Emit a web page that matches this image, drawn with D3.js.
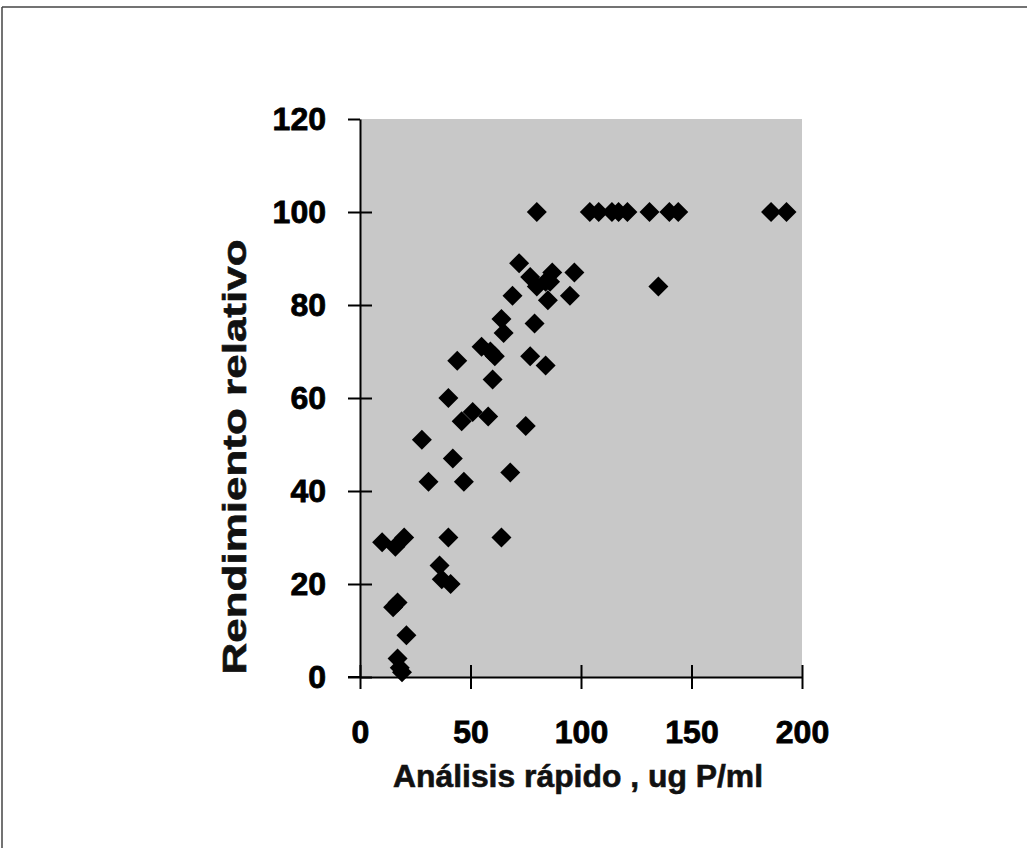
<!DOCTYPE html>
<html>
<head>
<meta charset="utf-8">
<title>Rendimiento relativo vs Análisis rápido</title>
<style>
  body { margin: 0; background: #fff; }
  svg { display: block; }
  .axis path, .axis line { stroke: #000; stroke-width: 2; }
  .axis text { font-family: "Liberation Sans", Arial, sans-serif; font-weight: bold; font-size: 32px; fill: #000; stroke: #000; stroke-width: 0.8; }
  .title { font-family: "Liberation Sans", Arial, sans-serif; font-weight: bold; fill: #111; stroke: #111; stroke-width: 0.6; }
</style>
</head>
<body>
<script src="https://d3js.org/d3.v7.min.js"></script>
<script>
// análisis rápido (ug P/ml) and rendimiento relativo
var xVals = [10, 16, 20, 15, 17, 21, 17, 18, 19,
             40, 64, 36, 37, 41,
             31, 47, 68, 42, 28,
             40, 46, 51, 58, 75, 60, 44, 55, 59, 61, 77, 84, 64, 65, 79, 69, 85, 95, 135,
             72, 77, 80, 84, 87, 86, 97,
             80, 104, 108, 114, 117, 121, 131, 140, 144, 186, 193];
var yVals = [29, 28, 30, 15, 16, 9, 4, 2, 1,
             30, 30, 24, 21, 20,
             42, 42, 44, 47, 51,
             60, 55, 57, 56, 54, 64, 68, 71, 70, 69, 69, 67, 77, 74, 76, 82, 81, 82, 84,
             89, 86, 84, 85, 87, 85, 87,
             100, 100, 100, 100, 100, 100, 100, 100, 100, 100, 100];
var xTicks = [0, 50, 100, 150, 200];
var yTicks = [0, 20, 40, 60, 80, 100, 120];

var W = 1027, H = 848;
var svg = d3.select("body").append("svg")
    .attr("width", W)
    .attr("height", H);

// scanned page frame (only top and left edges show)
svg.append("line").attr("x1", 2).attr("y1", 7).attr("x2", W).attr("y2", 7)
    .attr("stroke", "#444").attr("stroke-width", 1.5);
svg.append("line").attr("x1", 2).attr("y1", 7).attr("x2", 2).attr("y2", H)
    .attr("stroke", "#444").attr("stroke-width", 1.5);

var x = d3.scaleLinear().domain([0, 200]).range([360, 802]);
var y = d3.scaleLinear().domain([0, 120]).range([677, 119]);

// grey plot area
svg.append("rect")
    .attr("x", x(0)).attr("y", y(120))
    .attr("width", x(200) - x(0))
    .attr("height", y(0) - y(120))
    .attr("fill", "#c8c8c8");

// axes
var gx = svg.append("g").attr("class", "axis")
    .attr("transform", "translate(0," + y(0) + ")")
    .call(d3.axisBottom(x).tickValues(xTicks).tickSize(12).tickSizeOuter(0).tickPadding(31));
gx.selectAll(".tick line").attr("y1", -12);
gx.append("line").attr("x1", 348).attr("x2", x(0));

var gy = svg.append("g").attr("class", "axis")
    .attr("transform", "translate(" + x(0) + ",0)")
    .call(d3.axisLeft(y).tickValues(yTicks).tickSize(12).tickSizeOuter(0).tickPadding(22));
gy.selectAll(".tick line").attr("x1", function(d){ return d === 120 ? 0 : 12; });

// diamonds
var pts = xVals.map(function(v, i){ return [v, yVals[i]]; });
var diamond = d3.symbol().type(d3.symbolSquare).size(200);
svg.append("g").selectAll("path")
    .data(pts)
    .enter().append("path")
    .attr("d", diamond)
    .attr("transform", function(d){ return "translate(" + x(d[0]) + "," + y(d[1]) + ") rotate(45)"; })
    .attr("fill", "#000");

// titles
svg.append("text").attr("class", "title")
    .attr("x", 578).attr("y", 787)
    .attr("text-anchor", "middle")
    .attr("font-size", 31)
    .attr("textLength", 370).attr("lengthAdjust", "spacingAndGlyphs")
    .text("Análisis rápido , ug P/ml");

svg.append("text").attr("class", "title")
    .attr("transform", "translate(246,457) rotate(-90)")
    .attr("text-anchor", "middle")
    .attr("font-size", 34)
    .attr("textLength", 435).attr("lengthAdjust", "spacingAndGlyphs")
    .text("Rendimiento relativo");
</script>
</body>
</html>
